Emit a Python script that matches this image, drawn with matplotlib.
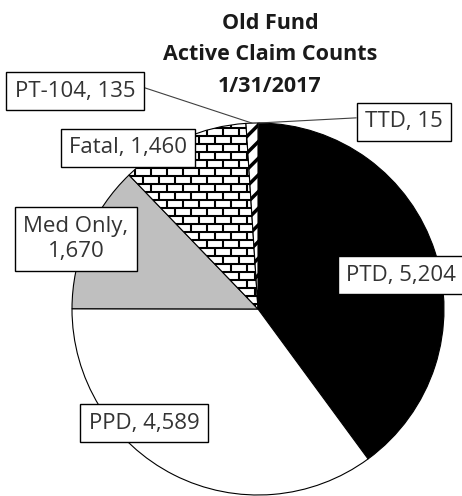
import matplotlib
matplotlib.use('Agg')
import matplotlib.pyplot as plt
import numpy as np
from matplotlib.collections import LineCollection

# ---- data ----
categories = ['TTD', 'PTD', 'PPD', 'Med Only', 'Fatal', 'PT-104']
counts = [15, 5204, 4589, 1670, 1460, 135]
label_texts = ['TTD, 15', 'PTD, 5,204', 'PPD, 4,589', 'Med Only,\n1,670', 'Fatal, 1,460', 'PT-104, 135']
title_lines = ['Old Fund', 'Active Claim Counts', '1/31/2017']

# ---- style / layout ----
colors = ['white', 'black', 'white', '#bfbfbf', 'white', 'white']
hatches = [None, None, None, None, 'brick', '//']
# label centres in image pixels (x from left, y from top)
label_pos = {'TTD': (404, 122), 'PTD': (401, 275), 'PPD': (144, 423),
             'Med Only': (76, 239), 'Fatal': (128, 148), 'PT-104': (75, 91)}
leader = {'TTD': (0.0, 0.72), 'PT-104': (1.0, 0.8)}

W, H = 462, 496
plt.rcParams['font.family'] = ['Open Sans', 'DejaVu Sans']
plt.rcParams['hatch.linewidth'] = 2.5
fig = plt.figure(figsize=(W / 100, H / 100), dpi=100)

cx, cy, R = 258, 309, 186
lim = 1.02
half = R * lim
ax = fig.add_axes([(cx - half) / W, (H - cy - half) / H, 2 * half / W, 2 * half / H])

wedges, _ = ax.pie(counts, startangle=90, counterclock=False, colors=colors,
                   wedgeprops=dict(edgecolor='black', linewidth=0.8))
for w, h in zip(wedges, hatches):
    if h and h != 'brick':
        w.set_hatch(h)
ax.set_xlim(-lim, lim)
ax.set_ylim(-lim, lim)
ax.axis('off')

# brick fill pattern for Fatal slice
for w, h in zip(wedges, hatches):
    if h != 'brick':
        continue
    row = 8.0 / R
    brick = 16.0 / R
    segs = []
    ys = np.arange(-1.05, 1.05, row)
    for y in ys:
        segs.append([(-1.05, y), (1.05, y)])
    for i, y in enumerate(ys[:-1]):
        off = (brick / 2) * (i % 2)
        for x in np.arange(-1.05 + off, 1.05, brick):
            segs.append([(x, y), (x, y + row)])
    lc = LineCollection(segs, colors='black', linewidths=1.5, zorder=w.get_zorder() + 0.1)
    ax.add_collection(lc)
    lc.set_clip_path(w)

# labels
txtc = '#333333'
fs = 16
bbox = dict(boxstyle='square,pad=0.38', fc='white', ec='black', lw=1.0)
for cat, w, lab in zip(categories, wedges, label_texts):
    px, py = label_pos[cat]
    if cat in leader:
        ang = np.deg2rad((w.theta1 + w.theta2) / 2)
        ax.annotate(lab, xy=(np.cos(ang), np.sin(ang)), xycoords='data',
                    xytext=(px, H - py), textcoords='figure pixels',
                    ha='center', va='center', fontsize=fs, color=txtc, bbox=bbox,
                    arrowprops=dict(arrowstyle='-', color='#404040', lw=0.8,
                                    relpos=leader[cat], shrinkA=0, shrinkB=0),
                    annotation_clip=False)
    else:
        fig.text(px / W, 1 - py / H, lab, ha='center', va='center', fontsize=fs,
                 color=txtc, bbox=bbox, linespacing=1.28)

fig.text(270 / W, 1 - 55 / H, '\n'.join(title_lines), ha='center', va='center',
         fontsize=15.5, fontweight='bold', color='#1a1a1a', linespacing=1.68)

fig.savefig('out.png', dpi=100)
